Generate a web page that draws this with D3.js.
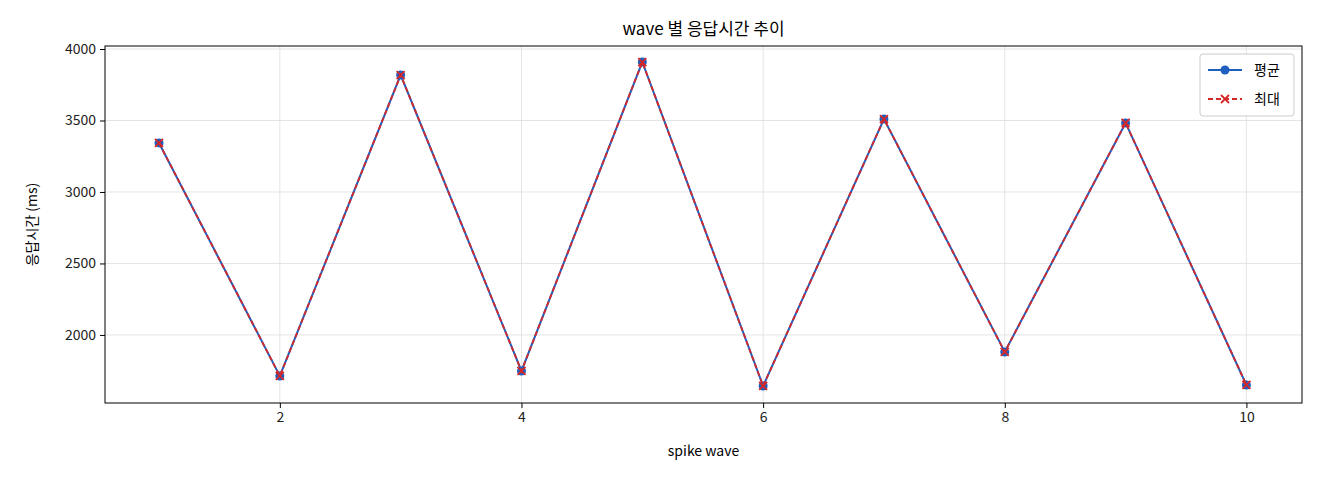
<!DOCTYPE html>
<html><head><meta charset="utf-8">
<script src="https://cdn.jsdelivr.net/npm/d3@7"></script>
<style>body{margin:0;background:#fff}text{font-family:"Noto Sans CJK KR","DejaVu Sans",sans-serif}</style>
</head><body>
<svg id="c" width="1320" height="480"></svg>
<script>
const waves = [1,2,3,4,5,6,7,8,9,10];
const avgMs = [3343,1713,3818,1748,3909,1643,3510,1881,3483,1650];
const maxMs = [3343,1713,3818,1748,3909,1643,3510,1881,3483,1650];
const xTicks = [2,4,6,8,10];
const yTicks = [2000,2500,3000,3500,4000];

const m = {left:105, right:1302, top:46, bottom:403};
const svg = d3.select("#c");
const x = d3.scaleLinear().domain([0.553,10.46]).range([m.left,m.right]);
const y = d3.scaleLinear().domain([1524,4021]).range([m.bottom,m.top]);

// grid
svg.append("g").selectAll("line").data(xTicks).join("line")
  .attr("x1",d=>x(d)).attr("x2",d=>x(d)).attr("y1",m.top).attr("y2",m.bottom)
  .attr("stroke","#ddd").attr("stroke-width",0.8);
svg.append("g").selectAll("line").data(yTicks).join("line")
  .attr("y1",d=>y(d)).attr("y2",d=>y(d)).attr("x1",m.left).attr("x2",m.right)
  .attr("stroke","#ddd").attr("stroke-width",0.8);

// axes
const ax = svg.append("g").attr("transform",`translate(0,${m.bottom})`)
  .call(d3.axisBottom(x).tickValues(xTicks).tickFormat(d3.format("d")).tickSize(5).tickPadding(4));
const ay = svg.append("g").attr("transform",`translate(${m.left},0)`)
  .call(d3.axisLeft(y).tickValues(yTicks).tickFormat(d3.format("d")).tickSize(5).tickPadding(4));
[ax,ay].forEach(g=>{g.select(".domain").remove();g.selectAll("text").attr("font-size",14).attr("fill","#222")});
svg.append("rect").attr("x",m.left).attr("y",m.top).attr("width",m.right-m.left).attr("height",m.bottom-m.top)
  .attr("fill","none").attr("stroke","#000").attr("stroke-width",1);

// lines
const line = d3.line().x((d,i)=>x(waves[i])).y(d=>y(d));
svg.append("path").datum(avgMs).attr("d",line).attr("fill","none").attr("stroke","#1f5fbf").attr("stroke-width",2);
svg.append("g").selectAll("circle").data(avgMs).join("circle")
  .attr("cx",(d,i)=>x(waves[i])).attr("cy",d=>y(d)).attr("r",4.5).attr("fill","#1f5fbf");
svg.append("path").datum(maxMs).attr("d",line).attr("fill","none").attr("stroke","#d62728")
  .attr("stroke-width",1.8).attr("stroke-dasharray","5,3");
const cross = (g,cx,cy,s)=>g.append("path").attr("d",`M${cx-s},${cy-s}L${cx+s},${cy+s}M${cx-s},${cy+s}L${cx+s},${cy-s}`)
  .attr("stroke","#d62728").attr("stroke-width",1.8);
const cg = svg.append("g");
maxMs.forEach((d,i)=>cross(cg,x(waves[i]),y(d),4));

// labels
svg.append("text").attr("x",(m.left+m.right)/2).attr("y",35).attr("text-anchor","middle").attr("font-size",17).text("wave 별 응답시간 추이");
svg.append("text").attr("x",(m.left+m.right)/2).attr("y",456).attr("text-anchor","middle").attr("font-size",14).text("spike wave");
svg.append("text").attr("transform",`translate(37,${(m.top+m.bottom)/2}) rotate(-90)`).attr("text-anchor","middle").attr("font-size",14).text("응답시간 (ms)");

// legend
const lg = svg.append("g").attr("transform","translate(1200,54)");
lg.append("rect").attr("width",94).attr("height",62).attr("rx",3).attr("fill","#fff").attr("stroke","#ccc");
lg.append("line").attr("x1",8).attr("x2",42).attr("y1",16).attr("y2",16).attr("stroke","#1f5fbf").attr("stroke-width",2);
lg.append("circle").attr("cx",25).attr("cy",16).attr("r",4.5).attr("fill","#1f5fbf");
lg.append("text").attr("x",54).attr("y",21).attr("font-size",14).text("평균");
lg.append("line").attr("x1",8).attr("x2",42).attr("y1",45).attr("y2",45).attr("stroke","#d62728").attr("stroke-width",1.8).attr("stroke-dasharray","5,3");
cross(lg,25,45,4);
lg.append("text").attr("x",54).attr("y",50).attr("font-size",14).text("최대");
</script>
</body></html>
